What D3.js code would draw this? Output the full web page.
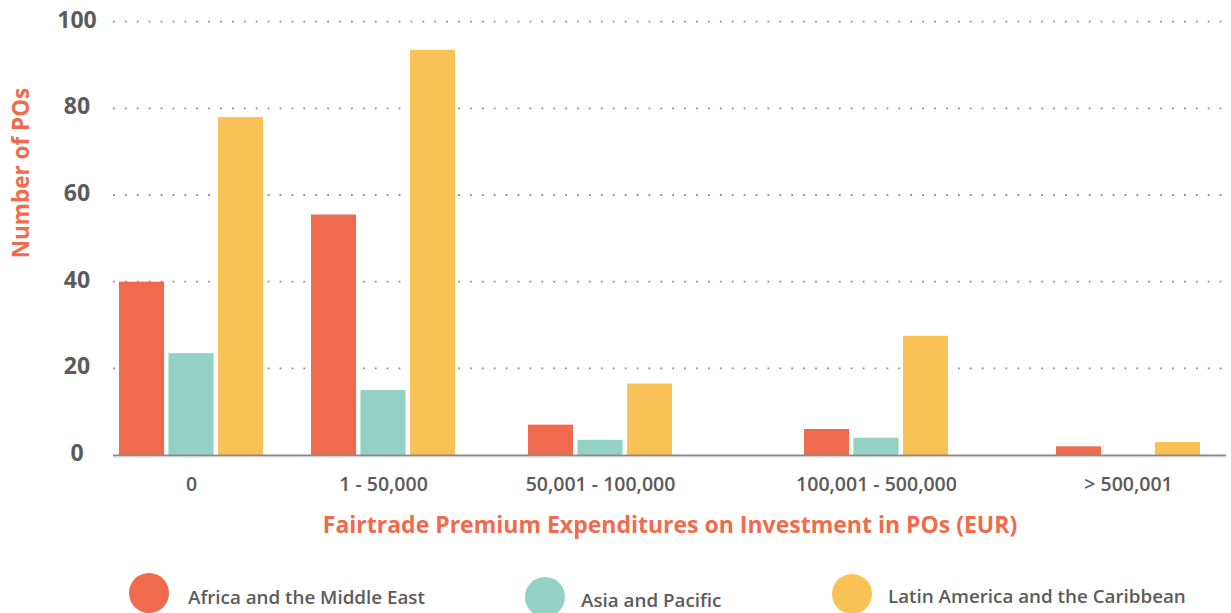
<!DOCTYPE html>
<html>
<head>
<meta charset="utf-8">
<script src="https://cdn.jsdelivr.net/npm/d3@7"></script>
<style>
    body { margin: 0; background: #fff; }
    text { font-family: "Open Sans", sans-serif; }
</style>
</head>
<body>
<script>
const categories = ['0', '1 - 50,000', '50,001 - 100,000', '100,001 - 500,000', '> 500,001'];
const seriesNames = ['Africa and the Middle East', 'Asia and Pacific', 'Latin America and the Caribbean'];
const africa = [40, 55.5, 7, 6, 2];
const asia = [23.5, 15, 3.5, 4, 0];
const latin = [78, 93.5, 16.5, 27.5, 3];
const yTicks = [0, 20, 40, 60, 80, 100];

const colors = ['#f06b4d', '#94d1c5', '#f8c257'];
const textColor = '#5b5b5b';
const titleColor = '#f06b4d';

// group centres are not evenly spaced in the original layout
const groupCenters = [191, 383, 600, 876, 1128];
const legendLayout = [
    {x: 149, y: 593, dy: 11},
    {x: 545, y: 597, dy: 10},
    {x: 852, y: 594, dy: 9}
];

function draw() {
    const width = 1231;
    const height = 613;
    const plot = {left: 113, right: 1231, top: 21.7, bottom: 455};

    const values = [africa, asia, latin];

    const svg = d3.select('body')
        .append('svg')
        .attr('width', width)
        .attr('height', height);

    const x0 = d3.scaleOrdinal().domain(categories).range(groupCenters);
    const x1 = d3.scaleBand().domain(seriesNames).range([-72, 72]).paddingInner(0.09);
    const y = d3.scaleLinear().domain([0, 100]).range([plot.bottom, plot.top]);

    // dotted grid
    svg.append('g')
        .selectAll('line')
        .data(yTicks.filter(d => d > 0))
        .enter()
        .append('line')
        .attr('x1', plot.left)
        .attr('x2', plot.right)
        .attr('y1', d => y(d))
        .attr('y2', d => y(d))
        .attr('stroke', '#8f8f8f')
        .attr('stroke-width', 1.8)
        .attr('stroke-dasharray', '1.8 10.1');

    // y tick labels
    svg.append('g')
        .selectAll('text')
        .data(yTicks)
        .enter()
        .append('text')
        .attr('x', 77)
        .attr('y', d => y(d) + 6)
        .attr('text-anchor', 'middle')
        .attr('font-size', 23)
        .attr('font-weight', 700)
        .attr('fill', textColor)
        .text(d => d);

    // bars
    const groups = svg.append('g')
        .selectAll('g')
        .data(categories)
        .enter()
        .append('g')
        .attr('transform', d => 'translate(' + x0(d) + ',0)');

    groups.selectAll('rect')
        .data((d, i) => seriesNames.map((s, k) => ({series: s, k: k, value: values[k][i]})))
        .enter()
        .append('rect')
        .filter(d => d.value > 0)
        .attr('x', d => x1(d.series))
        .attr('width', x1.bandwidth())
        .attr('y', d => y(d.value))
        .attr('height', d => y(0) - y(d.value))
        .attr('fill', d => colors[d.k]);

    // baseline
    svg.append('line')
        .attr('x1', plot.left)
        .attr('x2', 1226)
        .attr('y1', y(0) + 0.5)
        .attr('y2', y(0) + 0.5)
        .attr('stroke', '#8a8a8a')
        .attr('stroke-width', 2);
    svg.append('line')
        .attr('x1', plot.left)
        .attr('x2', 1226)
        .attr('y1', y(0) + 2)
        .attr('y2', y(0) + 2)
        .attr('stroke', '#dcdcdc')
        .attr('stroke-width', 1);

    // x axis labels
    const xAxis = d3.axisBottom(x0).tickSize(0).tickPadding(22);
    const xg = svg.append('g')
        .attr('transform', 'translate(0,' + y(0) + ')')
        .call(xAxis);
    xg.select('.domain').remove();
    xg.selectAll('text')
        .attr('font-family', '"Open Sans", sans-serif')
        .attr('font-size', 19.5)
        .attr('font-weight', 600)
        .attr('fill', textColor);

    // axis titles
    svg.append('text')
        .attr('x', 670)
        .attr('y', 533)
        .attr('text-anchor', 'middle')
        .attr('font-size', 23)
        .attr('font-weight', 700)
        .attr('fill', titleColor)
        .text('Fairtrade Premium Expenditures on Investment in POs (EUR)');

    svg.append('text')
        .attr('transform', 'translate(29,173) rotate(-90)')
        .attr('text-anchor', 'middle')
        .attr('font-size', 22.5)
        .attr('font-weight', 700)
        .attr('fill', titleColor)
        .text('Number of POs');

    // legend
    const legend = svg.append('g')
        .selectAll('g')
        .data(seriesNames)
        .enter()
        .append('g')
        .attr('transform', (d, i) => 'translate(' + legendLayout[i].x + ',' + legendLayout[i].y + ')');

    legend.append('circle')
        .attr('r', 20)
        .attr('fill', (d, i) => colors[i]);

    legend.append('text')
        .attr('x', (d, i) => i === 0 ? 39 : 36)
        .attr('y', (d, i) => legendLayout[i].dy)
        .attr('font-size', 18.8)
        .attr('font-weight', 600)
        .attr('fill', textColor)
        .text(d => d);
}

document.addEventListener('DOMContentLoaded', () => draw());
</script>
</body>
</html>
